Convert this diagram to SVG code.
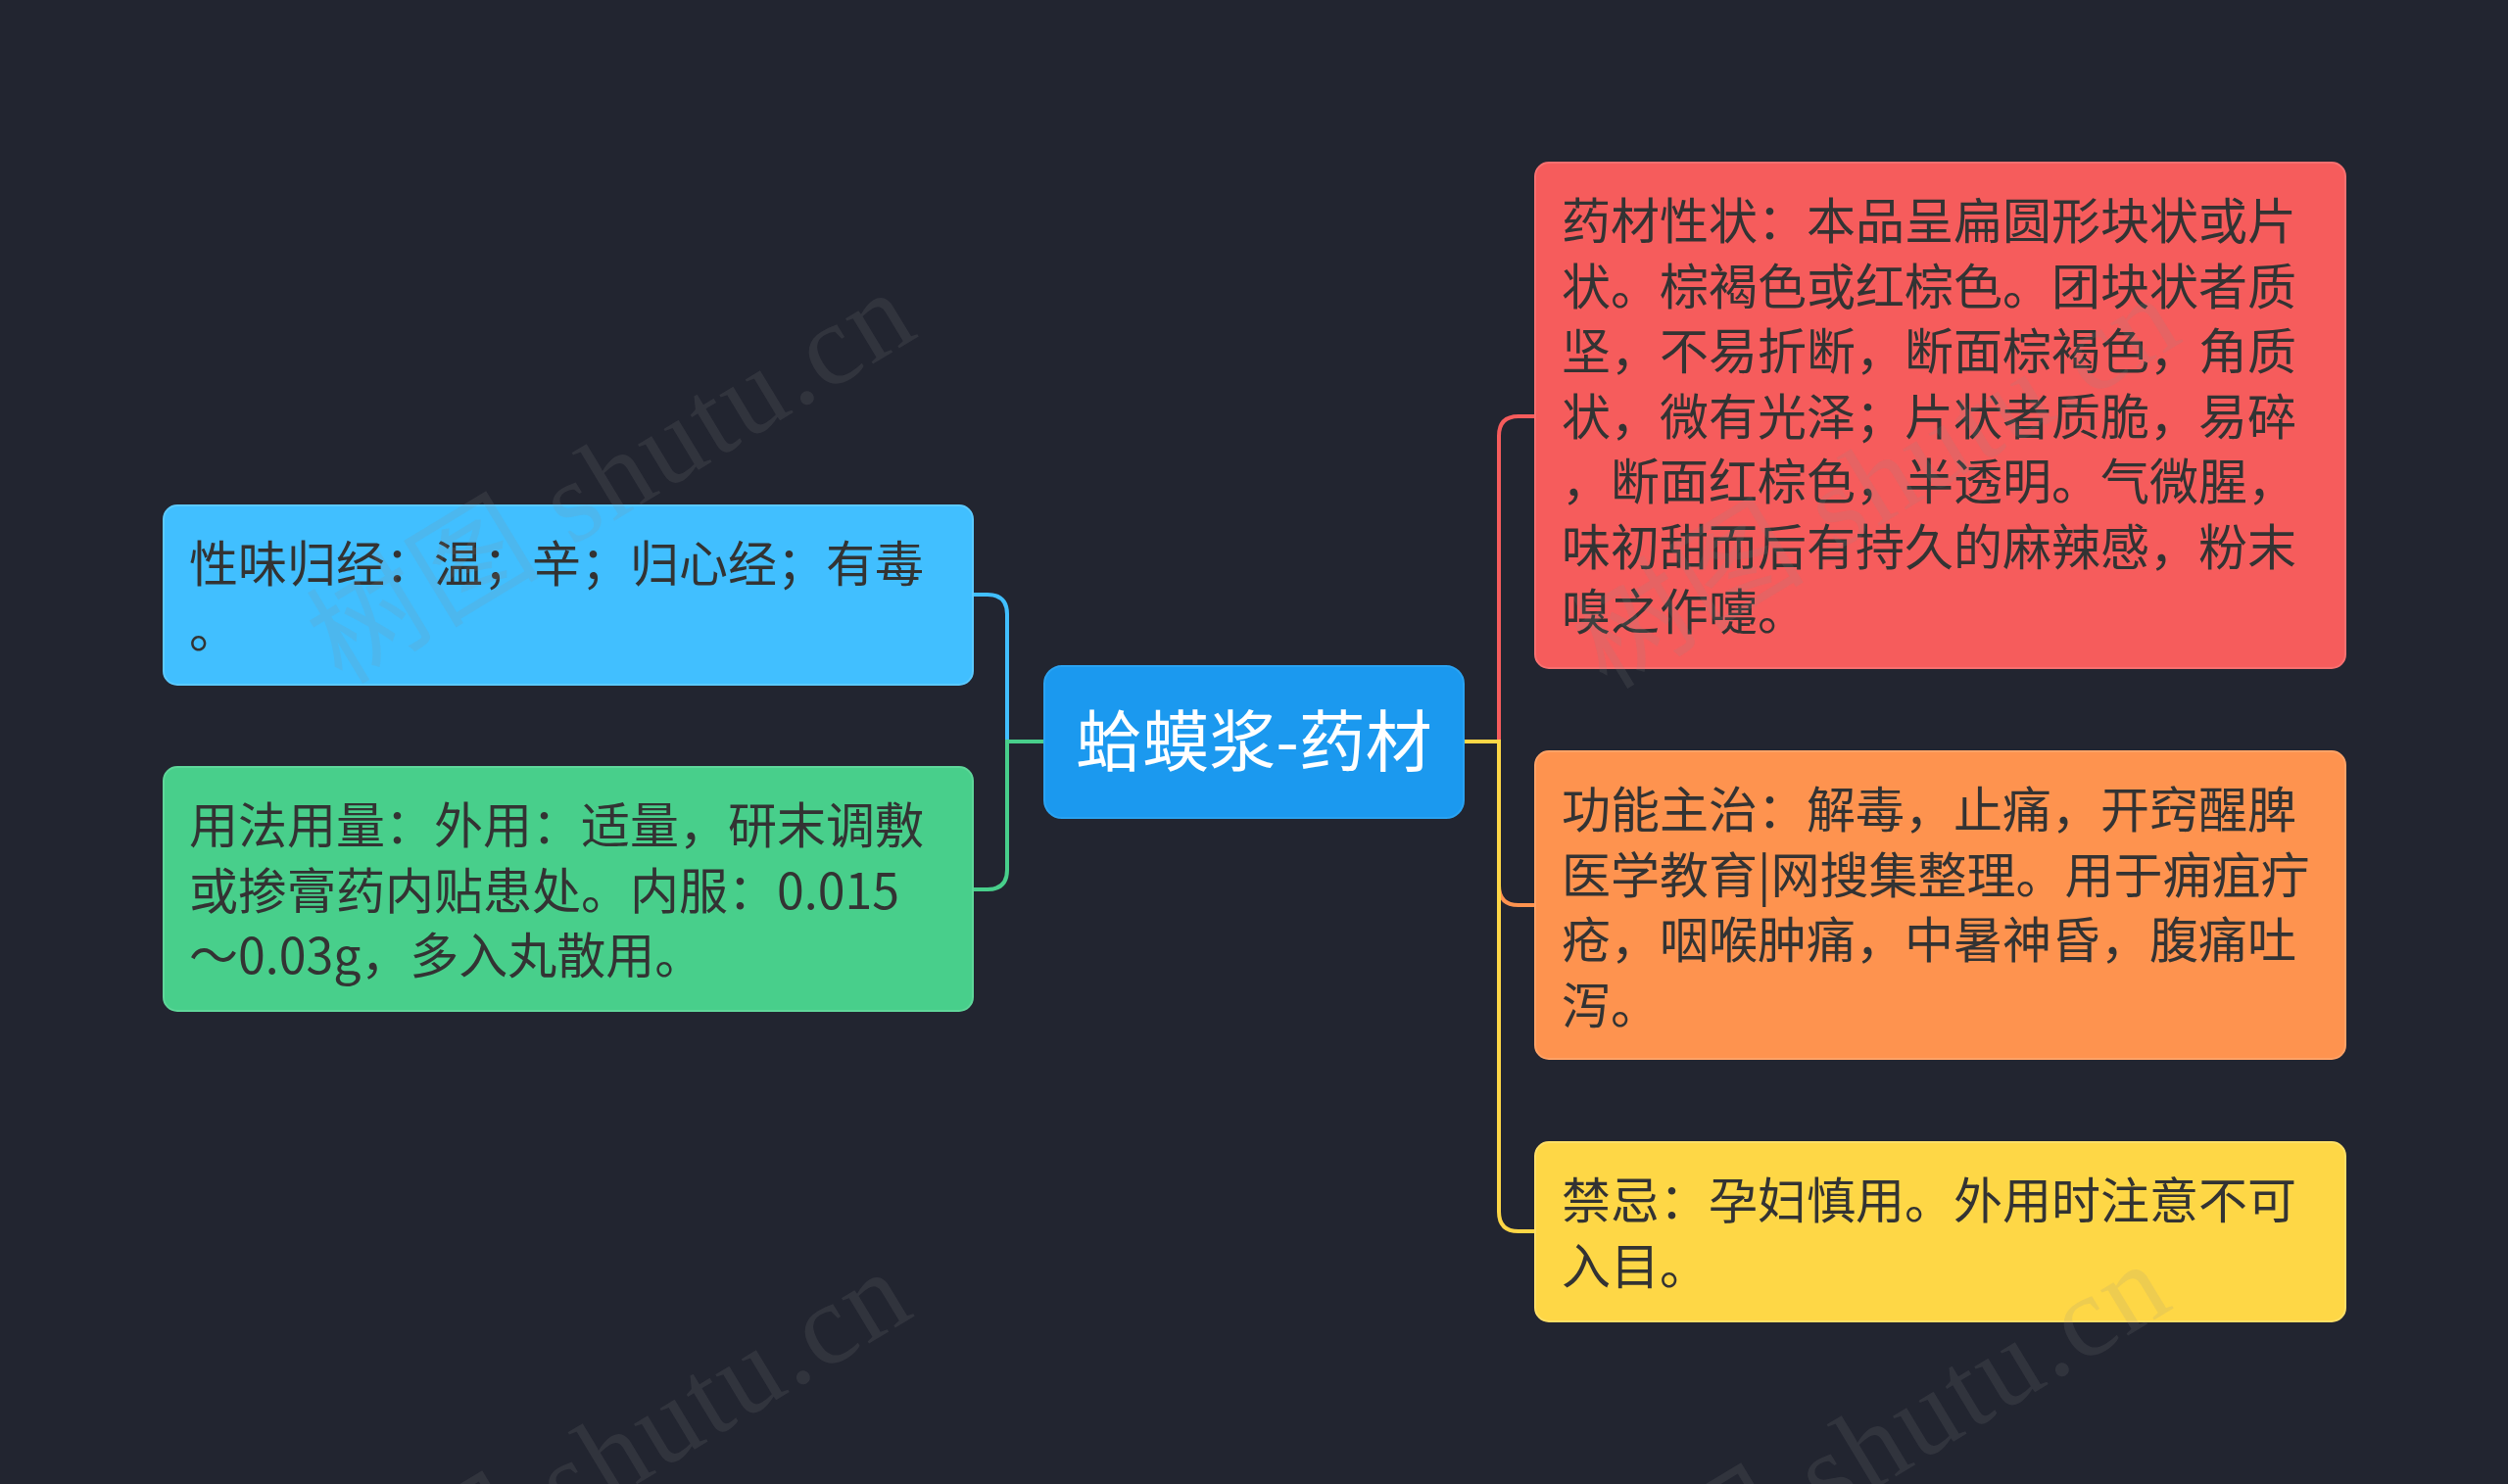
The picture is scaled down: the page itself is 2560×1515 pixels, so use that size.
<svg xmlns="http://www.w3.org/2000/svg" width="2560" height="1515" viewBox="0 0 2560 1515">
  <style>
    .box { stroke-width: 2; }
    .t { font-family: "Noto Sans CJK SC", "Noto Sans", sans-serif; font-size: 50px; fill: #333333; }
    .ct { font-family: "Noto Sans CJK SC", "Noto Sans", sans-serif; font-size: 68px; fill: #ffffff; }
    .link { fill: none; stroke-width: 4; }
    .wm { font-family: "Liberation Serif", "Noto Sans CJK SC", serif; font-size: 118px; fill: #8a8a8a; fill-opacity: 0.15; }
  </style>
  <rect x="0" y="0" width="2560" height="1515" fill="#222530"/>

  <g id="connectors">
    <path class="link" stroke="#f65c5c" d="M1494,757 H1530 V445 Q1530,425 1550,425 H1567"/>
    <path class="link" stroke="#fe934f" d="M1494,757 H1530 V904 Q1530,924 1550,924 H1567"/>
    <path class="link" stroke="#fed746" d="M1494,757 H1530 V1237 Q1530,1257 1550,1257 H1567"/>
    <path class="link" stroke="#41bfff" d="M1066,757 H1028 V627 Q1028,607 1008,607 H993"/>
    <path class="link" stroke="#48cf8b" d="M1066,757 H1028 V888 Q1028,908 1008,908 H993"/>
  </g>

  <g id="center">
    <rect class="box" x="1066" y="680" width="428" height="155" rx="18" fill="#1b99ef" stroke="#2aa3f2"/>
    <text class="ct" x="1280" y="782" text-anchor="middle">蛤蟆浆-药材</text>
  </g>

  <g id="node-xingwei">
    <rect class="box" x="167" y="516" width="826" height="183" rx="14" fill="#41bfff" stroke="#5ccaff"/>
    <text class="t" x="193" y="594">性味归经：温；辛；归心经；有毒<tspan x="193" y="660.5">。</tspan></text>
  </g>

  <g id="node-yongfa">
    <rect class="box" x="167" y="783" width="826" height="249" rx="14" fill="#48cf8b" stroke="#5fd79a"/>
    <text class="t" x="193" y="861">用法用量：外用：适量，研末调敷<tspan x="193" y="927.5">或掺膏药内贴患处。内服：0.015</tspan><tspan x="193" y="994">～0.03g，多入丸散用。</tspan></text>
  </g>

  <g id="node-xingzhuang">
    <rect class="box" x="1567" y="166" width="827" height="516" rx="14" fill="#f65c5c" stroke="#f87070"/>
    <text class="t" x="1594" y="244">药材性状：本品呈扁圆形块状或片<tspan x="1594" y="310.5">状。棕褐色或红棕色。团块状者质</tspan><tspan x="1594" y="377">坚，不易折断，断面棕褐色，角质</tspan><tspan x="1594" y="443.5">状，微有光泽；片状者质脆，易碎</tspan><tspan x="1594" y="510">，断面红棕色，半透明。气微腥，</tspan><tspan x="1594" y="576.5">味初甜而后有持久的麻辣感，粉末</tspan><tspan x="1594" y="643">嗅之作嚏。</tspan></text>
  </g>

  <g id="node-gongneng">
    <rect class="box" x="1567" y="767" width="827" height="314" rx="14" fill="#fe934f" stroke="#ffa266"/>
    <text class="t" x="1594" y="845">功能主治：解毒，止痛，开窍醒脾<tspan x="1594" y="911.5">医学教育|网搜集整理。用于痈疽疔</tspan><tspan x="1594" y="978">疮，咽喉肿痛，中暑神昏，腹痛吐</tspan><tspan x="1594" y="1044.5">泻。</tspan></text>
  </g>

  <g id="node-jinji">
    <rect class="box" x="1567" y="1166" width="827" height="183" rx="14" fill="#fed746" stroke="#ffdf66"/>
    <text class="t" x="1594" y="1244">禁忌：孕妇慎用。外用时注意不可<tspan x="1594" y="1310.5">入目。</tspan></text>
  </g>

  <g id="watermarks">
    <text class="wm" x="0" y="0" transform="translate(349,700) rotate(-31.2)" textLength="690" lengthAdjust="spacing">树图 shutu.cn</text>
    <text class="wm" x="0" y="0" transform="translate(1640,705) rotate(-31.2)" textLength="690" lengthAdjust="spacing">树图 shutu.cn</text>
    <text class="wm" x="0" y="0" transform="translate(345,1700) rotate(-31.2)" textLength="690" lengthAdjust="spacing">树图 shutu.cn</text>
    <text class="wm" x="0" y="0" transform="translate(1630,1692) rotate(-31.2)" textLength="690" lengthAdjust="spacing">树图 shutu.cn</text>
  </g>
</svg>
